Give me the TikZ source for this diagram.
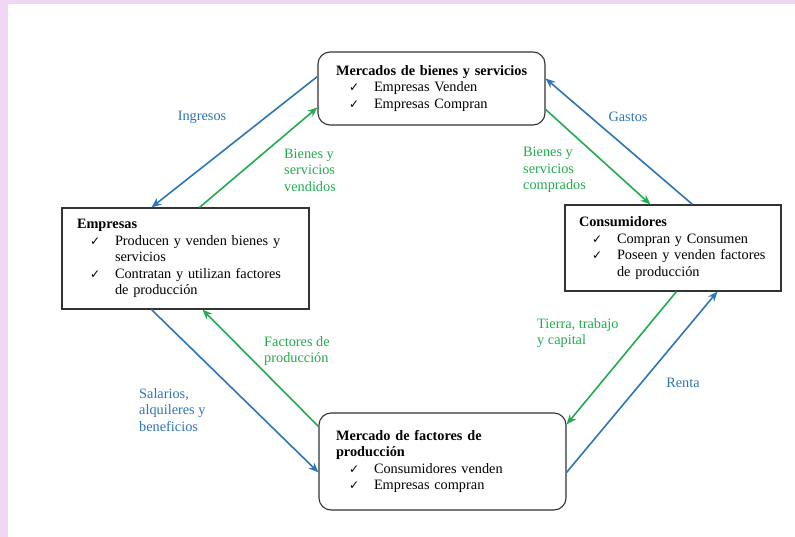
\documentclass[tikz,border=0pt]{standalone}
\usepackage{fontspec}
\setmainfont{Liberation Serif}
\newfontfamily\symfont{DejaVu Sans}
\usetikzlibrary{calc,arrows.meta}
\definecolor{flowblue}{RGB}{46,117,182}
\definecolor{flowgreen}{RGB}{34,172,78}
\definecolor{edgepink}{RGB}{242,214,246}
\hfuzz=50pt
\hbadness=10000
\newcommand\fs{\fontsize{14.3}{16.5}\selectfont}
\newcommand\chk{{\symfont\fontsize{12}{12}\selectfont ✓}}
\newcommand\ttl[1]{\mbox{\textbf{#1}}}
\newcommand\chkitem[1]{\mbox{\hspace*{13pt}\makebox[25pt][l]{\chk}#1}}
\newcommand\contline[1]{\mbox{\hspace*{38pt}#1}}
\begin{document}
\begin{tikzpicture}[x=1pt,y=-1pt,
  mbox/.style={draw=black!80, line width=1.1pt, align=left, inner ysep=0pt, font=\fs, anchor=center},
  lab/.style={inner sep=0pt, align=left, font=\fs},
  flow/.style={line width=1.6pt, -{Stealth[length=10pt,width=8pt]}},
  bl/.style={flow, draw=flowblue},
  gr/.style={flow, draw=flowgreen}]
\useasboundingbox (0,0) rectangle (795,537);
\fill[edgepink] (0,0) rectangle (795,537);
\fill[white] (8,4) rectangle (795,537);

\node[mbox, rounded corners=12pt, minimum width=227pt, minimum height=73pt, inner xsep=18pt, text width=191pt] (T) at (431.5,88.5)
 {\ttl{Mercados de bienes y servicios}\\
  \chkitem{Empresas Venden}\\
  \chkitem{Empresas Compran}};

\node[mbox, minimum width=247pt, minimum height=101pt, inner xsep=15pt, text width=217pt] (E) at (185.5,258.5)
 {\ttl{Empresas}\\
  \chkitem{Producen y venden bienes y}\\
  \contline{servicios}\\
  \chkitem{Contratan y utilizan factores}\\
  \contline{de producción}};

\node[mbox, minimum width=216pt, minimum height=86pt, inner xsep=14pt, text width=188pt] (C) at (673,248)
 {\ttl{Consumidores}\\
  \chkitem{Compran y Consumen}\\
  \chkitem{Poseen y venden factores}\\
  \contline{de producción}};

\node[mbox, rounded corners=12pt, minimum width=247pt, minimum height=97pt, inner xsep=17pt, text width=213pt] (B) at (442.5,461.5)
 {\ttl{Mercado de factores de}\\
  \ttl{producción}\\
  \chkitem{Consumidores venden}\\
  \chkitem{Empresas compran}};

% connectors
\draw[bl] ($(T.north west)+(0,25)$) -- ($(E.north west)+(90,0)$);
\draw[gr] ($(E.north west)+(138,0)$) -- ($(T.north west)+(0,56)$);
\draw[gr] ($(T.north east)+(0,58)$) -- ($(C.north west)+(86,0)$);
\draw[bl] ($(C.north west)+(128,0)$) -- ($(T.north east)+(0,27)$);
\draw[bl] ($(E.south west)+(90,0)$) -- ($(B.north west)+(0,60)$);
\draw[gr] ($(B.north west)+(0,14)$) -- ($(E.south west)+(141,0)$);
\draw[gr] ($(C.south west)+(112,0)$) -- ($(B.north east)+(0,12)$);
\draw[bl] ($(B.north east)+(0,60)$) -- ($(C.south west)+(153,0)$);

% labels
\node[lab, text=flowblue] (l1) at (202,117) {Ingresos};
\node[lab, text=flowgreen, anchor=west] (l2) at (284,170) {Bienes y\\servicios\\vendidos};
\node[lab, text=flowblue] (l3) at (628,117) {Gastos};
\node[lab, text=flowgreen, anchor=west] (l4) at (523,170) {Bienes y\\servicios\\comprados};
\node[lab, text=flowgreen, anchor=west] (l5) at (264,351) {Factores de\\producción};
\node[lab, text=flowblue, anchor=west] (l6) at (139,410) {Salarios,\\alquileres y\\beneficios};
\node[lab, text=flowgreen, anchor=west] (l7) at (537,333) {Tierra, trabajo\\y capital};
\node[lab, text=flowblue] (l8) at (683,383) {Renta};
\end{tikzpicture}
\end{document}
